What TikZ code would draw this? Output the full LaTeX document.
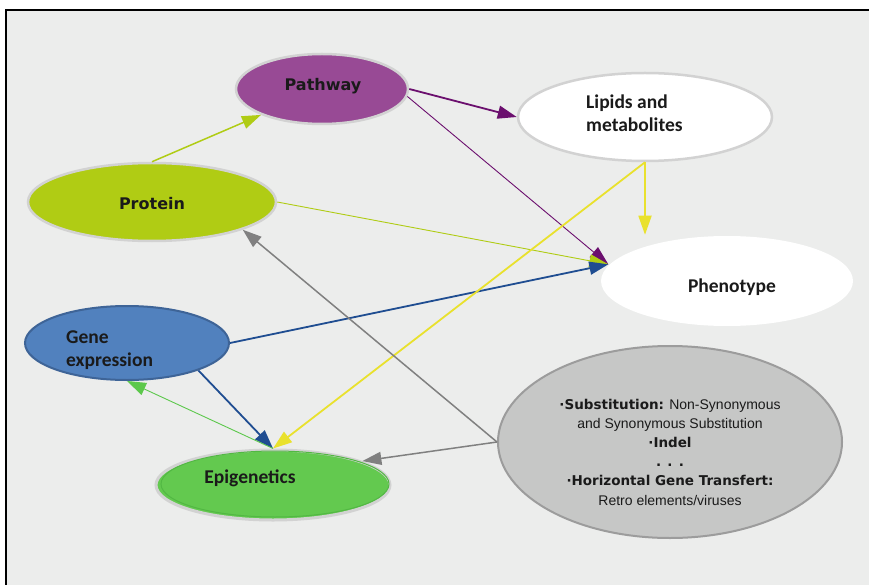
\documentclass[tikz,border=0pt]{standalone}
\usepackage{fontspec}
\usetikzlibrary{shapes.geometric,arrows.meta}
\setmainfont{Liberation Sans}
\newfontfamily\carl{Carlito}
\newfontfamily\dvs{DejaVu Sans}
\newcommand{\heavy}[1]{{\dvs\bfseries\fontsize{13.5}{19.2}\selectfont #1}}

\definecolor{bggray}{HTML}{ECEDEC}
\definecolor{ringgray}{HTML}{D2D2D2}
\definecolor{pathfill}{HTML}{984A95}
\definecolor{protfill}{HTML}{B0CC14}
\definecolor{genefill}{HTML}{5181BE}
\definecolor{genedraw}{HTML}{3E6497}
\definecolor{epifill}{HTML}{63C94F}
\definecolor{epiline}{HTML}{52B843}
\definecolor{mutfill}{HTML}{C6C7C6}
\definecolor{mutdraw}{HTML}{9C9C9C}
\definecolor{purplearr}{HTML}{6B0F6E}
\definecolor{bluearr}{HTML}{1F4D91}
\definecolor{yellowarr}{HTML}{E9E12D}
\definecolor{greenarr}{HTML}{5CC84B}
\definecolor{grayarr}{HTML}{808080}
\definecolor{textdark}{HTML}{1A1A1A}

\tikzset{
  bubble/.style={ellipse, inner sep=0pt, line width=2.5pt},
  heavylabel/.style={font=\dvs\bfseries\fontsize{16}{19}\selectfont, text=textdark, inner sep=0pt},
  softlabel/.style={font=\carl\bfseries\fontsize{19.5}{23.5}\selectfont, text=textdark, inner sep=0pt, align=left},
  link/.style={-{Triangle[length=19pt,width=13pt]}, line width=1.8pt},
  thinlink/.style={-{Triangle[length=19pt,width=13pt]}, line width=0.9pt},
}

\begin{document}
\begin{tikzpicture}[x=1pt,y=-1pt]
  % page and panel
  \useasboundingbox (0,0) rectangle (869,585);
  \fill[white] (0,0) rectangle (869,585);
  \fill[bggray] (6,10) rectangle (869,585);
  \draw[black, line width=1.6pt] (6,585) -- (6,10) -- (869,10);

  % ellipses
  \node[bubble, draw=ringgray, fill=pathfill, minimum width=172pt, minimum height=70pt] (pathway) at (322,89) {};
  \node[bubble, draw=ringgray, fill=white, minimum width=254pt, minimum height=88pt] (lipids) at (645,117) {};
  \node[bubble, draw=ringgray, fill=protfill, minimum width=248pt, minimum height=78pt] (protein) at (152,202) {};
  \node[bubble, draw=none, fill=white, minimum width=252pt, minimum height=90pt] (phenotype) at (727,281) {};
  \node[bubble, draw=genedraw, line width=2pt, fill=genefill, minimum width=204pt, minimum height=74pt] (gene) at (127,343) {};
  \node[bubble, draw=ringgray, line width=3pt, fill=epifill, minimum width=234pt, minimum height=70pt] (epi) at (273,485) {};
  \draw[epiline, line width=1pt] ([xshift=2pt,yshift=1pt]epi.center) ellipse (114 and 33);
  \node[bubble, draw=mutdraw, line width=2pt, fill=mutfill, minimum width=344pt, minimum height=192pt] (mut) at (670,442) {};

  % labels
  \node[heavylabel] (pathwaytext) at (323,86) {Pathway};
  \node[heavylabel] (proteintext) at (152,204) {Protein};
  \node[softlabel, anchor=west] (lipidstext) at (586,113) {Lipids and\\metabolites};
  \node[softlabel] (phenotext) at (732,287) {Phenotype};
  \node[softlabel, anchor=west] (genetext) at (66,350) {Gene\\expression};
  \node[softlabel] (epitext) at (250,478) {Epigenetics};
  \node[inner sep=0pt, align=center, text=textdark, font=\fontsize{14}{19.2}\selectfont] (muttext) at (670,452)
    {\heavy{·Substitution:} Non-Synonymous\\
     and Synonymous Substitution\\
     \heavy{·Indel}\\
     \heavy{. . .}\\
     \heavy{·Horizontal Gene Transfert:}\\
     Retro elements/viruses};

  % connectors
  \draw[link, protfill, line width=1.5pt] (protein.north) -- (pathway.203);
  \draw[link, purplearr] (pathway.east) -- (lipids.west);
  \draw[thinlink, purplearr] (pathway.-5) -- (phenotype.172);
  \draw[thinlink, protfill] (protein.east) -- (phenotype.172);
  \draw[link, bluearr] (gene.east) -- (phenotype.172);
  \draw[link, yellowarr] (lipids.south) -- (lipids.south |- phenotype.north);
  \draw[link, yellowarr] (lipids.south) -- (epi.north);
  \draw[link, bluearr] (gene.-21) -- (epi.north);
  \draw[thinlink, greenarr] (epi.north) -- (gene.south);
  \draw[link, grayarr, line width=1.5pt] (mut.west) -- (protein.-17);
  \draw[link, grayarr, line width=1.5pt] (mut.west) -- (epi.15);
\end{tikzpicture}
\end{document}
